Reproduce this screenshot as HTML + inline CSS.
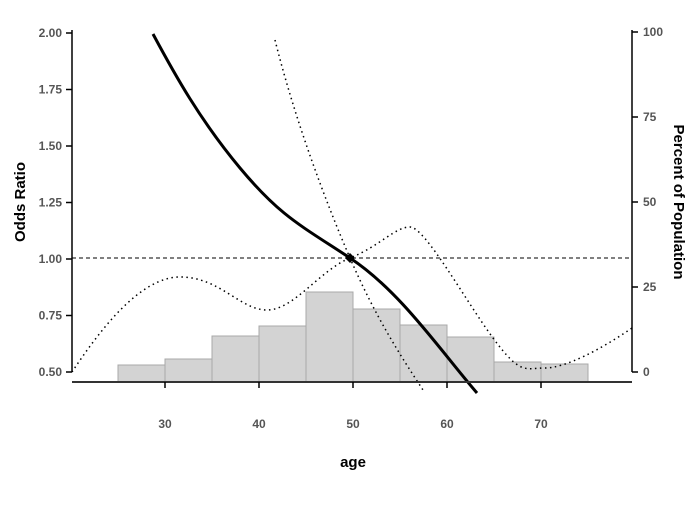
<!DOCTYPE html>
<html><head><style>body{margin:0;background:#fff}svg text{font-family:"Liberation Sans",sans-serif}</style></head><body>
<svg width="700" height="500" xmlns="http://www.w3.org/2000/svg">
<g fill="#d3d3d3" stroke="#a8a8a8" stroke-width="1">
<rect x="118" y="365" width="47" height="17"/>
<rect x="165" y="359" width="47" height="23"/>
<rect x="212" y="336" width="47" height="46"/>
<rect x="259" y="326" width="47" height="56"/>
<rect x="306" y="292" width="47" height="90"/>
<rect x="353" y="309" width="47" height="73"/>
<rect x="400" y="325" width="47" height="57"/>
<rect x="447" y="337" width="47" height="45"/>
<rect x="494" y="362" width="47" height="20"/>
<rect x="541" y="364" width="47" height="18"/>
</g>
<line x1="72" y1="258" x2="632" y2="258" stroke="#000" stroke-dasharray="4,3"/>
<path d="M72,372 C100,330 140,277 180,277 S240,310 267,310 S320,270 350,258 S395,227 410,227 S465,300 493,338 S525,368 545,368 S600,350 632,328" fill="none" stroke="#000" stroke-width="1.5" stroke-dasharray="1.5,3.5"/>
<path d="M275,40 C295,120 325,200 350,258 S400,355 423,390" fill="none" stroke="#000" stroke-width="1.5" stroke-dasharray="1.5,3.5"/>
<path d="M153,34 C175,75 200,120 240,168 S300,225 350,258 S440,350 477,393" fill="none" stroke="#000" stroke-width="3"/>
<path d="M350,253 L355,258 L350,263 L345,258 Z" fill="#000"/>
<g stroke="#000" stroke-width="1.5">
<line x1="72" y1="30" x2="72" y2="372"/>
<line x1="632" y1="30" x2="632" y2="372"/>
<line x1="72" y1="382" x2="632" y2="382" stroke="#333" stroke-width="2"/>
<line x1="66" y1="33" x2="72" y2="33"/><line x1="66" y1="89.5" x2="72" y2="89.5"/><line x1="66" y1="146" x2="72" y2="146"/><line x1="66" y1="202.5" x2="72" y2="202.5"/><line x1="66" y1="259" x2="72" y2="259"/><line x1="66" y1="315.5" x2="72" y2="315.5"/><line x1="66" y1="372" x2="72" y2="372"/>
<line x1="632" y1="32" x2="638" y2="32"/><line x1="632" y1="117" x2="638" y2="117"/><line x1="632" y1="202" x2="638" y2="202"/><line x1="632" y1="287" x2="638" y2="287"/><line x1="632" y1="372" x2="638" y2="372"/>
<line x1="165" y1="382" x2="165" y2="388"/><line x1="259" y1="382" x2="259" y2="388"/><line x1="353" y1="382" x2="353" y2="388"/><line x1="447" y1="382" x2="447" y2="388"/><line x1="541" y1="382" x2="541" y2="388"/>
</g>
<g font-size="12" font-weight="bold" fill="#555" text-anchor="end">
<text x="62" y="37">2.00</text><text x="62" y="93.5">1.75</text><text x="62" y="150">1.50</text><text x="62" y="206.5">1.25</text><text x="62" y="263">1.00</text><text x="62" y="319.5">0.75</text><text x="62" y="376">0.50</text>
</g>
<g font-size="12" font-weight="bold" fill="#555">
<text x="643" y="36">100</text><text x="643" y="121">75</text><text x="643" y="206">50</text><text x="643" y="291">25</text><text x="643" y="376">0</text>
</g>
<g font-size="12" font-weight="bold" fill="#555" text-anchor="middle">
<text x="165" y="428">30</text><text x="259" y="428">40</text><text x="353" y="428">50</text><text x="447" y="428">60</text><text x="541" y="428">70</text>
</g>
<text x="353" y="467" font-size="15" font-weight="bold" text-anchor="middle">age</text>
<text transform="translate(25,202) rotate(-90)" font-size="15" font-weight="bold" text-anchor="middle">Odds Ratio</text>
<text transform="translate(674,202) rotate(90)" font-size="15" font-weight="bold" text-anchor="middle">Percent of Population</text>
</svg>
</body></html>
